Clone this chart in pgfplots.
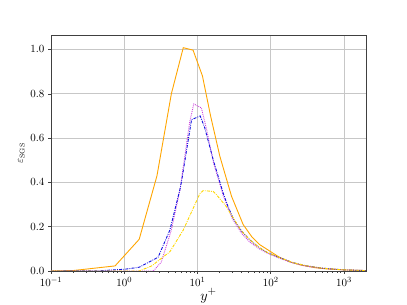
\documentclass[border=0pt]{standalone}
\usepackage{pgfplots}
\pgfplotsset{compat=1.18}
\definecolor{cOrange}{HTML}{FFA500}
\definecolor{cBlue}{HTML}{1010E0}
\definecolor{cMag}{HTML}{CC44DD}
\definecolor{cGold}{HTML}{FFD700}
\begin{document}
\begin{tikzpicture}
\path[use as bounding box] (-51pt,-34pt) rectangle (356pt,271pt);
\begin{axis}[
  at={(0,0)}, anchor=south west,
  scale only axis, width=315pt, height=235.5pt,
  xmode=log, xmin=0.1, xmax=2000,
  ymin=0, ymax=1.063,
  ytick={0,0.2,0.4,0.6,0.8,1.0},
  yticklabel style={/pgf/number format/.cd, fixed, fixed zerofill, precision=1},
  scaled y ticks=false,
  tick pos=left, tick align=outside,
  major tick length=3pt, minor tick length=1.6pt,
  grid=major,
  major grid style={draw=black!22, line width=0.7pt},
  axis line style={draw=black!75, line width=0.6pt},
  every tick/.style={black!75, line width=0.5pt},
  tick label style={font=\fontsize{11}{12}\selectfont},
  xlabel={$y^{+}$},
  xlabel style={font=\fontsize{15}{17}\selectfont, yshift=5pt},
  ylabel={$\varepsilon_{\mathrm{SGS}}$},
  ylabel style={font=\fontsize{10.5}{12}\selectfont, yshift=-1pt},
  clip=true,
]
\addplot[cOrange, line width=0.9pt] coordinates {
(0.1,0) (0.2,0.002) (0.75,0.023) (1.6,0.143) (2.8,0.43) (4.4,0.80) (6.4,1.008) (8.7,0.997)
(11.7,0.88) (15.1,0.70) (20.2,0.518) (29.2,0.337) (42,0.21) (55,0.155) (70,0.12) (97,0.09)
(130,0.063) (180,0.042) (250,0.028) (400,0.015) (600,0.009) (1000,0.005) (2000,0.002)};
\addplot[cMag, line width=0.9pt, densely dotted] coordinates {
(0.1,0) (1.0,0) (2.5,0.0) (3.2,0.04) (4.4,0.185) (5.8,0.37) (7.8,0.67) (8.9,0.754) (11.3,0.736)
(13.3,0.64) (16.5,0.49) (22.5,0.34) (30,0.235) (40,0.17) (52,0.13) (70,0.1) (88,0.082)
(126,0.06) (200,0.036) (300,0.022) (500,0.012) (1000,0.005) (2000,0.002)};
\addplot[cBlue, line width=0.9pt, dash pattern=on 3pt off 1.2pt on 0.8pt off 1.2pt] coordinates {
(0.1,0) (0.46,0.001) (1.02,0.008) (1.6,0.017) (2.9,0.062) (4.2,0.185) (5.75,0.367) (6.1,0.41)
(8.3,0.683) (10.9,0.70) (12.6,0.645) (16.4,0.502) (22.5,0.35) (26.2,0.29) (31,0.235) (40,0.18)
(52,0.14) (70,0.105) (88,0.085) (126,0.063) (200,0.038) (300,0.024) (500,0.013) (1000,0.005) (2000,0.002)};
\addplot[cGold, line width=0.9pt, dash pattern=on 3pt off 1.2pt on 0.8pt off 1.2pt] coordinates {
(0.1,0) (1.6,0.0) (2.37,0.023) (4.2,0.087) (6.4,0.185) (10.8,0.35) (12,0.363) (16.4,0.359)
(18.2,0.344) (24.9,0.29) (30,0.245) (40,0.18) (52,0.14) (70,0.105) (88,0.085) (126,0.063)
(200,0.038) (300,0.024) (500,0.013) (1000,0.005) (2000,0.002)};
\node[anchor=south west, inner sep=0.5pt, font=\fontsize{6.5}{7}\selectfont] at (rel axis cs:0,1) {$\times10^{-2}$};
\end{axis}
\end{tikzpicture}
\end{document}
